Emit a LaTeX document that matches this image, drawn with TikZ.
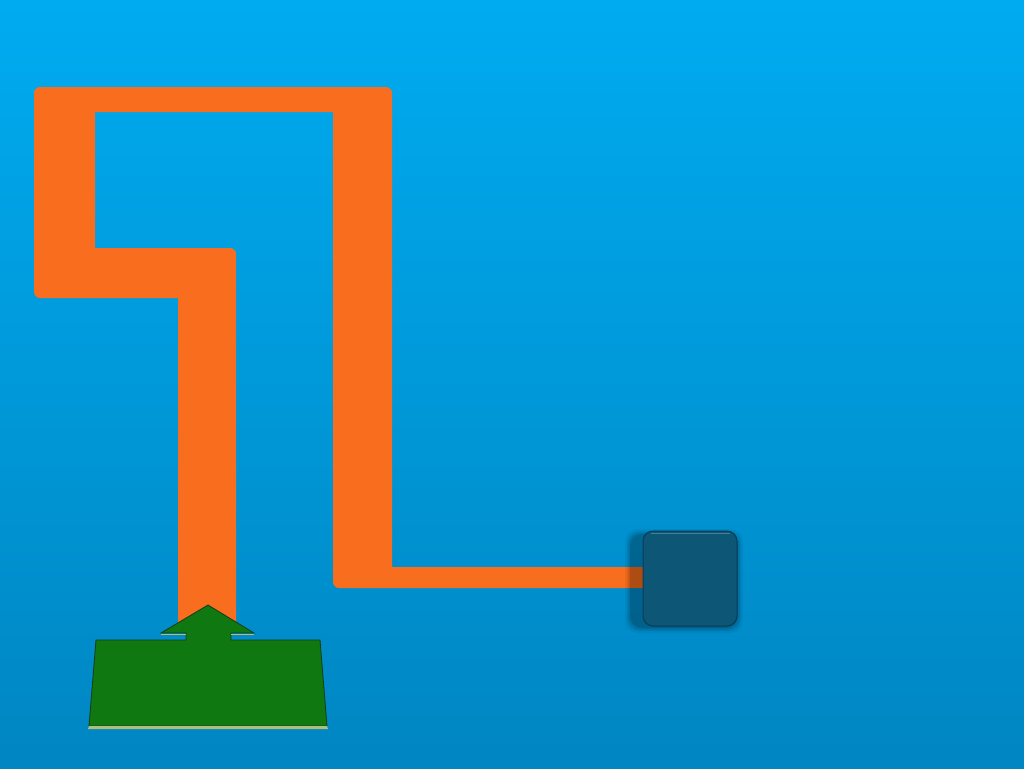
\documentclass[tikz,border=0pt]{standalone}
\begin{document}
\begin{tikzpicture}[x=1pt,y=-1pt]
\definecolor{bgtop}{RGB}{0,171,240}
\definecolor{bgbot}{RGB}{0,134,194}
\definecolor{orng}{RGB}{249,110,30}
\definecolor{boxc}{RGB}{13,86,118}
\definecolor{boxe}{RGB}{8,60,85}
\definecolor{grn}{RGB}{16,120,16}
\definecolor{grne}{RGB}{20,60,20}
\definecolor{bevel}{RGB}{175,190,120}
\tikzset{
  orangepath/.style={fill=orng},
  boxstyle/.style={fill=boxc, draw=boxe, line width=1pt, rounded corners=10pt, minimum width=94pt, minimum height=95pt, inner sep=0pt},
  arrowstyle/.style={fill=grn, draw=grne, line width=0.8pt, line join=miter}
}
\useasboundingbox (0,0) rectangle (1024,768);
\shade[top color=bgtop, bottom color=bgbot] (0,0) rectangle (1024,768);
% orange "1" shape
\fill[orangepath] (34,240) [rounded corners=6pt] -- (34,87) -- (392,87) [sharp corners] -- (392,112) -- (95,112) -- (95,248) [rounded corners=6pt] -- (236,248) [sharp corners] -- (236,625) -- (178,625) -- (178,298) [rounded corners=6pt] -- (34,298) [sharp corners] -- cycle;
% orange L
\fill[orangepath] (392,112) -- (333,112) [rounded corners=6pt] -- (333,588) [sharp corners] -- (645,588) -- (645,567) -- (392,567) -- cycle;
% box shadow
\foreach \d/\o in {5/0.05,3/0.07,1.5/0.09,0/0.12}{
  \fill[black, opacity=\o, rounded corners=12pt] (630-\d,534-\d) rectangle (738+\d,628+\d);
}
\node[boxstyle] (box) at (690,578.5) {};
\draw[white, opacity=0.25, line width=1.2pt] ([xshift=8pt,yshift=-3pt]box.north west) -- ([xshift=-8pt,yshift=-3pt]box.north east);
% green arrow
\draw[arrowstyle] (96,640) -- (186,640) -- (186,633) -- (161,633) -- (208,605) -- (254,633) -- (231,633) -- (231,640) -- (320,640) -- (327,726) -- (89,726) -- cycle;
\fill[bevel] (89,726) -- (327,726) -- (328,729) -- (88,729) -- cycle;
\draw[bevel, line width=1pt] (161,634.5) -- (186,634.5);
\draw[bevel, line width=1pt] (231,634.5) -- (254,634.5);
\end{tikzpicture}
\end{document}
